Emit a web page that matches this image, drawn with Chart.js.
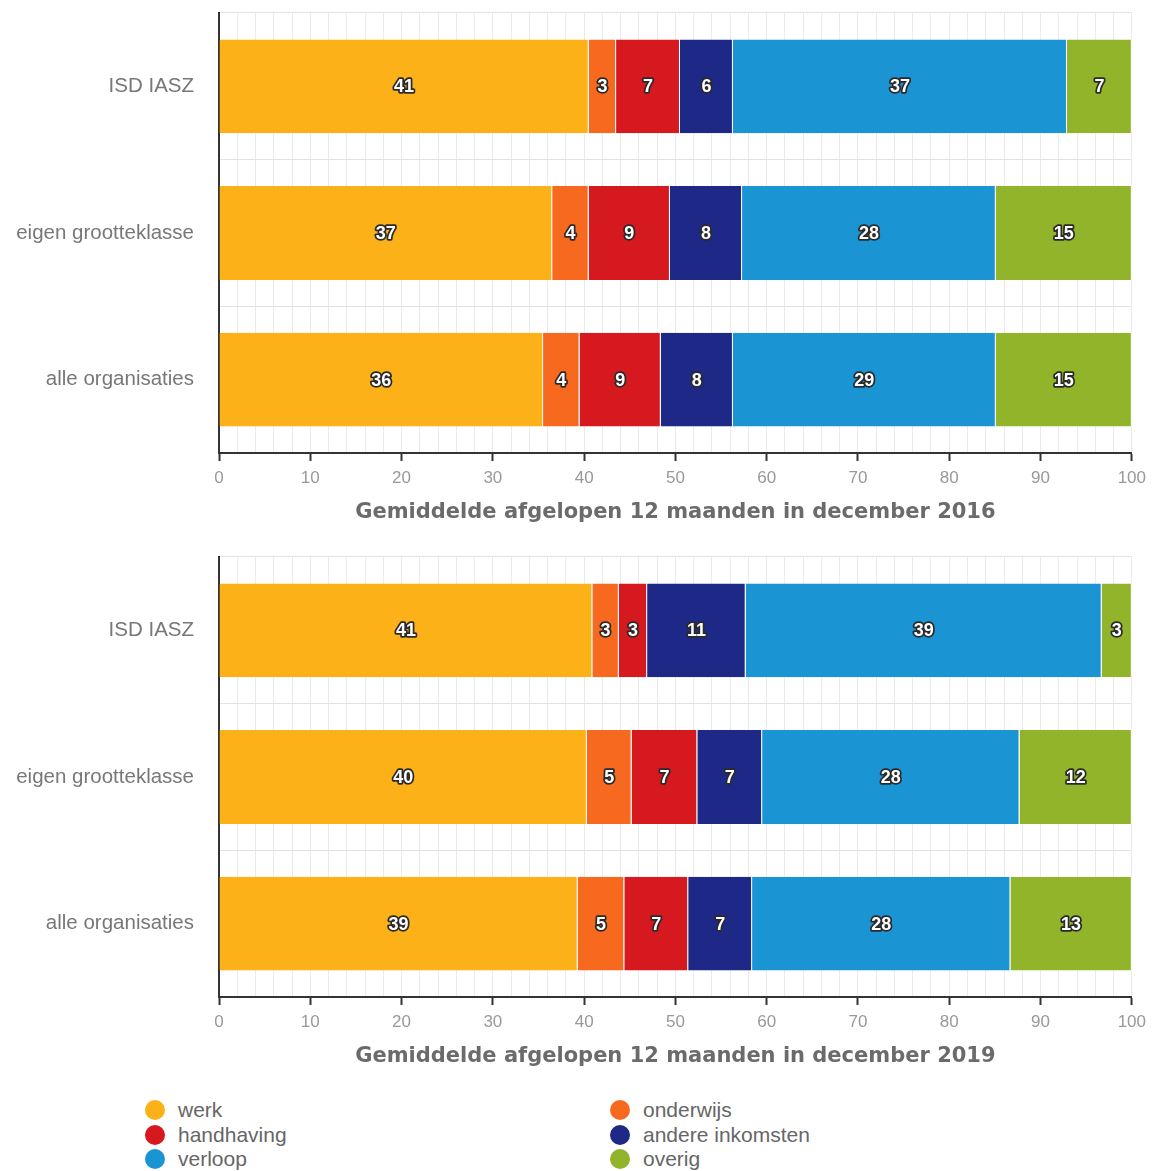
<!DOCTYPE html>
<html>
<head>
<meta charset="utf-8">
<script src="https://cdn.jsdelivr.net/npm/chart.js@4.4.1/dist/chart.umd.min.js"></script>
<style>
    html, body { margin: 0; padding: 0; background: #fff; }
    body { width: 1153px; height: 1171px; position: relative; overflow: hidden; }
    .chart-box { position: absolute; left: 0; width: 1153px; height: 535px; }
    #legend { position: absolute; left: 0; top: 1098px; width: 1153px; font-family: "Liberation Sans", Arial, sans-serif; font-size: 21px; color: #666; }
    .leg-item { position: absolute; height: 24px; line-height: 24px; white-space: nowrap; }
    .leg-dot { position: absolute; left: 0; top: 2px; width: 20px; height: 20px; border-radius: 50%; }
    .leg-text { position: absolute; left: 33px; top: 0; }
</style>
</head>
<body>
<div class="chart-box" style="top:0"><canvas id="chart-2016"></canvas></div>
<div class="chart-box" style="top:544px"><canvas id="chart-2019"></canvas></div>
<div id="legend"></div>

<script>
/* global Chart */

const categories = ['ISD IASZ', 'eigen grootteklasse', 'alle organisaties'];
const seriesNames = ['werk', 'onderwijs', 'handhaving', 'andere inkomsten', 'verloop', 'overig'];
const seriesColors = ['#fbb117', '#f7691f', '#d5191f', '#1e2886', '#1b94d4', '#92b42b'];
const xTicks = [0, 10, 20, 30, 40, 50, 60, 70, 80, 90, 100];

// percentages per category (ISD IASZ, eigen grootteklasse, alle organisaties)
const werk2016 = [40.5, 36.5, 35.5];
const onderwijs2016 = [3.0, 4.0, 4.0];
const handhaving2016 = [7.0, 8.9, 8.9];
const andere2016 = [5.8, 7.9, 7.9];
const verloop2016 = [36.6, 27.8, 28.8];
const overig2016 = [7.1, 14.9, 14.9];

const werk2019 = [40.9, 40.3, 39.3];
const onderwijs2019 = [2.9, 4.9, 5.1];
const handhaving2019 = [3.1, 7.2, 7.0];
const andere2019 = [10.8, 7.1, 7.0];
const verloop2019 = [39.0, 28.2, 28.3];
const overig2019 = [3.3, 12.3, 13.3];

const barLabels = {
    id: 'barLabels',
    afterDatasetsDraw(chart) {
        const ctx = chart.ctx;
        ctx.save();
        ctx.font = 'bold 18px "Liberation Sans", Arial, sans-serif';
        ctx.textAlign = 'center';
        ctx.textBaseline = 'middle';
        ctx.lineJoin = 'round';
        ctx.lineWidth = 3.5;
        ctx.strokeStyle = '#2a2a2a';
        ctx.fillStyle = '#fff';
        chart.data.datasets.forEach((ds, i) => {
            chart.getDatasetMeta(i).data.forEach((el, j) => {
                const p = el.getCenterPoint();
                const txt = String(Math.round(ds.data[j]));
                ctx.strokeText(txt, p.x, p.y + 1);
                ctx.fillText(txt, p.x, p.y + 1);
            });
        });
        ctx.restore();
    }
};

function makeChart(id, series, title) {
    const ctx = document.getElementById(id);
    return new Chart(ctx.getContext('2d'), {
        type: 'bar',
        data: {
            labels: categories,
            datasets: series.map((data, i) => ({
                label: seriesNames[i],
                data: data,
                backgroundColor: seriesColors[i],
                borderColor: '#fff',
                borderWidth: { left: 1, right: 1, top: 0, bottom: 0 },
                borderSkipped: 'start',
                barPercentage: 0.64,
                categoryPercentage: 1
            }))
        },
        options: {
            indexAxis: 'y',
            responsive: false,
            animation: false,
            layout: { padding: { top: 13, right: 21, left: 0, bottom: 0 } },
            plugins: { legend: { display: false }, tooltip: { enabled: false } },
            scales: {
                x: {
                    stacked: true,
                    min: 0,
                    max: 100,
                    afterBuildTicks: scale => {
                        const t = [];
                        for (let v = 0; v <= 100; v += 2) t.push({ value: v });
                        scale.ticks = t;
                    },
                    afterFit: scale => { scale.height = 82; },
                    grid: {
                        color: c => (c.tick && c.tick.value === 0) ? 'transparent' : '#ebebeb',
                        tickColor: c => xTicks.includes(c.tick.value) ? '#333' : 'transparent',
                        tickLength: 8,
                        tickWidth: 2
                    },
                    border: { display: true, color: '#333', width: 2 },
                    ticks: {
                        autoSkip: false,
                        maxRotation: 0,
                        padding: 7,
                        color: '#999',
                        font: { family: '"Liberation Sans", Arial, sans-serif', size: 17 },
                        callback: v => xTicks.includes(v) ? String(v) : ''
                    },
                    title: {
                        display: true,
                        text: title,
                        color: '#6b6b6b',
                        font: { family: '"DejaVu Sans", sans-serif', size: 21, weight: 'bold' },
                        padding: { top: 0, bottom: 10 }
                    }
                },
                y: {
                    stacked: true,
                    afterFit: scale => { scale.width = 219; },
                    grid: { color: '#e2e2e2', offset: true, drawTicks: true, tickLength: 25, tickColor: 'transparent' },
                    border: { display: true, color: '#333', width: 2 },
                    ticks: {
                        padding: 0,
                        color: '#777',
                        font: { family: '"Liberation Sans", Arial, sans-serif', size: 20.5 }
                    }
                }
            }
        },
        plugins: [barLabels]
    });
}

['chart-2016', 'chart-2019'].forEach(id => {
    const c = document.getElementById(id);
    c.width = 1153;
    c.height = 535;
    c.style.width = '1153px';
    c.style.height = '535px';
});

makeChart('chart-2016',
    [werk2016, onderwijs2016, handhaving2016, andere2016, verloop2016, overig2016],
    'Gemiddelde afgelopen 12 maanden in december 2016');
makeChart('chart-2019',
    [werk2019, onderwijs2019, handhaving2019, andere2019, verloop2019, overig2019],
    'Gemiddelde afgelopen 12 maanden in december 2019');

// two-column legend: werk / onderwijs, handhaving / andere inkomsten, verloop / overig
const legend = document.getElementById('legend');
seriesNames.forEach((name, i) => {
    const item = document.createElement('div');
    item.className = 'leg-item';
    item.style.left = (i % 2 === 0 ? 145 : 610) + 'px';
    item.style.top = (Math.floor(i / 2) * 24.5) + 'px';
    item.innerHTML = '<span class="leg-dot" style="background:' + seriesColors[i] + '"></span>' +
        '<span class="leg-text">' + name + '</span>';
    legend.appendChild(item);
});
</script>
</body>
</html>
